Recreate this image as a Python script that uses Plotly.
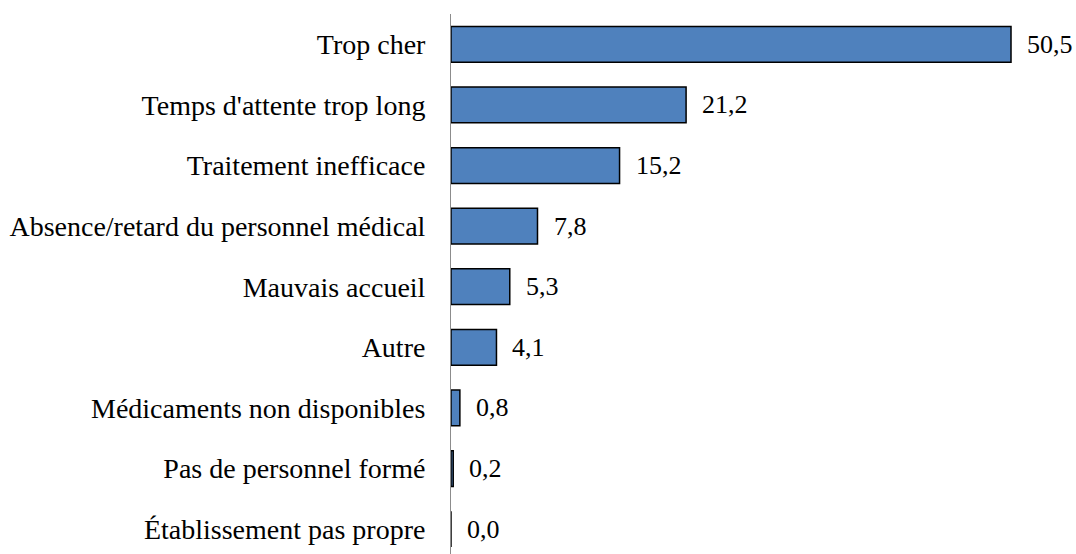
import plotly.graph_objects as go

categories = [
    "Trop cher",
    "Temps d'attente trop long",
    "Traitement inefficace",
    "Absence/retard du personnel médical",
    "Mauvais accueil",
    "Autre",
    "Médicaments non disponibles",
    "Pas de personnel formé",
    "Établissement pas propre",
]
values = [50.5, 21.2, 15.2, 7.8, 5.3, 4.1, 0.8, 0.2, 0.0]

positions = list(range(len(categories)))
FONT = "Liberation Serif"

fig = go.Figure()
fig.add_trace(go.Bar(
    x=values,
    y=positions,
    orientation="h",
    width=0.59,
    marker=dict(color="#4F81BD", line=dict(color="#000000", width=1.5)),
    hoverinfo="skip",
))

for v, p in zip(values, positions):
    fig.add_annotation(
        x=v, y=p, text=f"{v:.1f}".replace(".", ","),
        xanchor="left", yanchor="middle", xshift=14, showarrow=False,
        font=dict(family=FONT, size=26, color="#000000"),
    )

fig.update_layout(
    width=1076, height=554,
    margin=dict(l=451, r=4, t=14, b=0, autoexpand=False),
    paper_bgcolor="white", plot_bgcolor="white",
    showlegend=False,
    font=dict(family=FONT),
    xaxis=dict(range=[0, 56], showgrid=False, zeroline=False,
               showticklabels=False, ticks="", showline=False,
               automargin=False),
    yaxis=dict(range=[8.41, -0.5], tickvals=positions, ticktext=categories,
               showgrid=False, zeroline=False, ticks="",
               showline=True, linecolor="#8c8c8c", linewidth=1,
               ticklabelstandoff=19, automargin=False,
               tickfont=dict(family=FONT, size=28, color="#000000")),
)

fig.write_html(
    "out.html",
    config={"displayModeBar": False},
    post_script="document.body.style.margin='0';document.body.style.overflow='hidden';",
)
